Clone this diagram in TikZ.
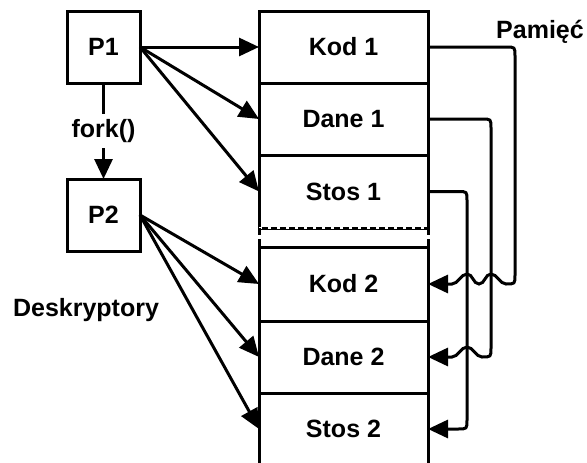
\documentclass[tikz,border=0pt]{standalone}
\usepackage{fontspec}
\setmainfont{Liberation Sans}
\usetikzlibrary{arrows.meta,positioning}
\begin{document}
\begin{tikzpicture}[x=1pt,y=-1pt,line width=3pt,
    font=\fontsize{25}{30}\selectfont\bfseries,
    tip/.style={-{Triangle[length=20pt,width=18pt]}},
    proc/.style={draw,minimum width=73pt,minimum height=72pt,inner sep=0pt,outer sep=0pt},
    mem/.style={draw,minimum width=169pt,minimum height=72pt,inner sep=0pt,outer sep=0pt}]
    \useasboundingbox (0,0) rectangle (587,463);
    \node[proc] (p1) at (103.5,47) {P1};
    \node[proc] (p2) at (103.5,215) {P2};
    \node[inner sep=4pt] (fork) at (103.5,131) {fork()};
    \draw (p1) -- (fork);
    \draw[tip] (fork) -- (p2);
    \node[mem] (kod1) at (343.5,47) {Kod 1};
    \node[mem,below=0pt of kod1] (dane1) {Dane 1};
    \node[mem,below=0pt of dane1,minimum height=73pt] (stos1) {Stos 1};
    \node[mem,minimum height=74pt] (kod2) at (343.5,284) {Kod 2};
    \node[mem,below=0pt of kod2] (dane2) {Dane 2};
    \node[mem,below=0pt of dane2] (stos2) {Stos 2};
    \draw[white,line width=2pt,dash pattern=on 3pt off 6pt] (stos1.south west) -- (stos1.south east);
    \draw (stos1.south west) -- ++(0,7);
    \draw (stos1.south east) -- ++(0,7);
    \draw (kod2.north west) -- ++(0,-8);
    \draw (kod2.north east) -- ++(0,-8);
    \draw[tip] (p1.east) -- (kod1.west);
    \draw[tip] (p1.east) -- (dane1.west);
    \draw[tip] (p1.east) -- (stos1.west);
    \draw[tip] (p2.east) -- (kod2.west);
    \draw[tip] (p2.east) -- (dane2.west);
    \draw[tip] (p2.east) -- (stos2.west);
    \draw[tip] (kod1.east) -- (506,47) .. controls (515,47) .. (515,56) -- (515,275)
        .. controls (515,284) .. (506,284)
        .. controls (500,284) and (497,274) .. (491,274)
        .. controls (485,274) and (485,284) .. (479,284)
        .. controls (473,284) and (473,274) .. (467,274)
        .. controls (461,274) and (458,284) .. (452,284) -- (kod2.east);
    \draw[tip] (dane1.east) -- (482,119) .. controls (491,119) .. (491,128) -- (491,348)
        .. controls (491,357) .. (482,357)
        .. controls (476,357) and (473,347) .. (467,347)
        .. controls (461,347) and (458,357) .. (452,357) -- (dane2.east);
    \draw[tip] (stos1.east) -- (458,191.5) .. controls (467,191.5) .. (467,200.5) -- (467,420)
        .. controls (467,429) .. (458,429) -- (stos2.east);
    \node[anchor=base] (pamiec) at (540,38) {Pamięć};
    \node[anchor=base] (deskr) at (86,316) {Deskryptory};
\end{tikzpicture}
\end{document}
